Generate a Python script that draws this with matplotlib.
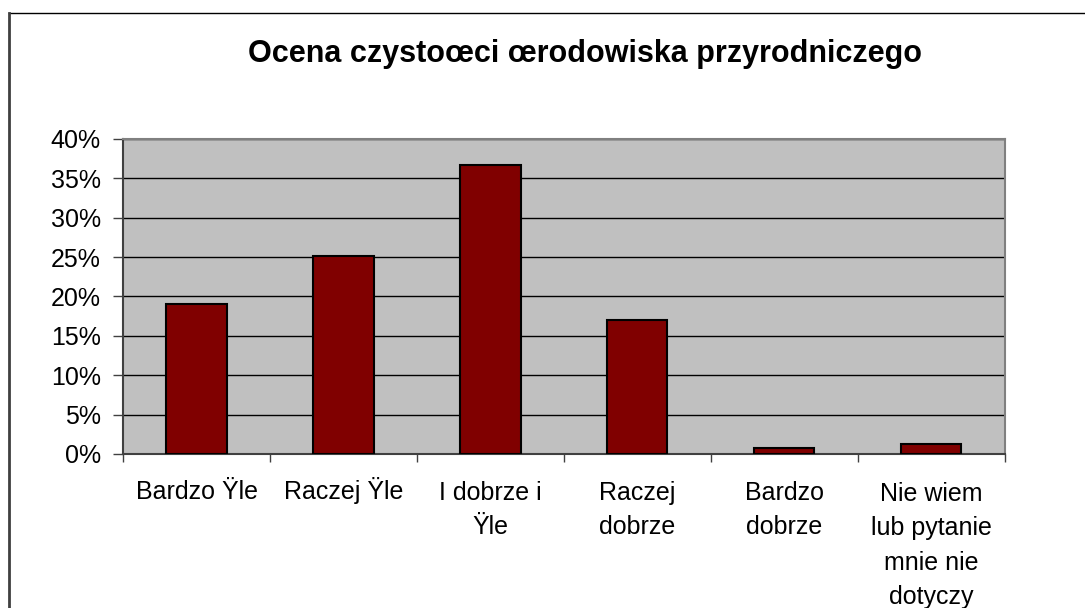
import matplotlib
matplotlib.use("Agg")
import matplotlib.pyplot as plt
from matplotlib.lines import Line2D
from matplotlib.ticker import PercentFormatter, MultipleLocator
from matplotlib.transforms import offset_copy

plt.rcParams['font.family'] = ['Liberation Sans', 'DejaVu Sans']

title = 'Ocena czystoœci œrodowiska przyrodniczego'
categories = ['Bardzo Ÿle', 'Raczej Ÿle', 'I dobrze i\nŸle', 'Raczej\ndobrze',
              'Bardzo\ndobrze', 'Nie wiem\nlub pytanie\nmnie nie\ndotyczy']
values = [19.1, 25.2, 36.7, 17.0, 0.8, 1.3]

fig = plt.figure(figsize=(10.85, 6.08), dpi=100)
ax = fig.add_axes([0.1134, 0.2533, 0.8126, 0.5181])

pos = list(range(len(categories)))
ax.bar(pos, values, width=0.41, color='#800000', edgecolor='black', linewidth=1.5, zorder=3)

ax.set_facecolor('#C0C0C0')
ax.set_xlim(-0.5, len(categories) - 0.5)
ax.set_ylim(0, 40)
ax.yaxis.set_major_locator(MultipleLocator(5))
ax.yaxis.set_major_formatter(PercentFormatter(decimals=0))
ax.grid(axis='y', color='black', linewidth=1, zorder=1)

# tick marks on the category boundaries, labels drawn by hand below
ax.set_xticks([p - 0.5 for p in pos] + [len(categories) - 0.5])
ax.set_xticklabels([])
ax.tick_params(axis='x', length=6, width=1, color='#404040')
ax.tick_params(axis='y', length=7, width=1, color='#404040', pad=9, labelsize=18)

# first baseline 45px under the axis, 35px between lines
for p, lab in zip(pos, categories):
    n = lab.count('\n')
    tr = offset_copy(ax.get_xaxis_transform(), fig=fig, y=-(45 + 35 * n), units='dots')
    ax.text(p, 0, lab, transform=tr, ha='center', va='baseline', multialignment='center',
            fontsize=18, linespacing=1.55)

for side in ['top', 'right']:
    ax.spines[side].set_color('#808080')
    ax.spines[side].set_linewidth(1.5)
for side in ['left', 'bottom']:
    ax.spines[side].set_color('#404040')
    ax.spines[side].set_linewidth(1.5)

fig.text(0.539, 0.898, title, ha='center', va='baseline', fontsize=22, fontweight='bold')

# chart area border (cropped on the right and bottom)
fig.add_artist(Line2D([9 / 1085, 1.0], [1 - 13 / 608, 1 - 13 / 608], color='black', linewidth=1))
fig.add_artist(Line2D([9 / 1085, 9 / 1085], [0.0, 1 - 13 / 608], color='#404040', linewidth=2))

fig.savefig('out.png', dpi=100)
